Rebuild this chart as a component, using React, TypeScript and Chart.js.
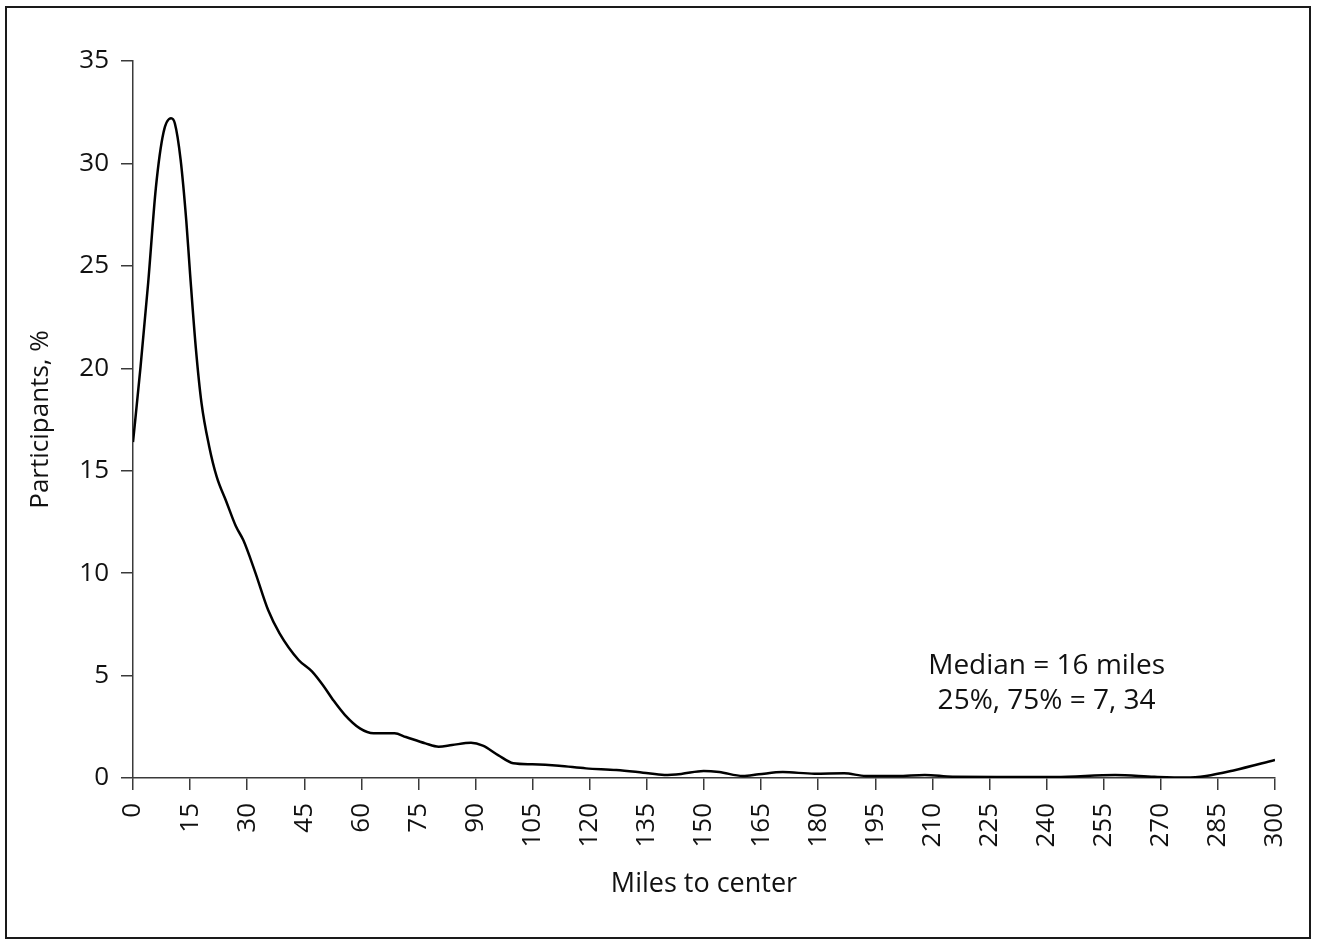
import React, { useEffect, useRef } from "react";
import { Chart, registerables } from "chart.js";

Chart.register(...registerables);

const miles = [0, 2, 4, 6, 8, 10, 11, 12.5, 14, 15, 16.5, 18, 20, 22, 24.5, 27, 29, 32, 35.5, 38.5, 43.5, 47, 50, 52.6, 55.7, 59.6, 63.2, 68.7, 71.7, 76.8, 80.3, 83.8, 88.8, 91.9, 95.9, 99.9, 104.9, 111.9, 119, 127, 134, 139.6, 144, 149.9, 154, 160.2, 164.4, 170.7, 179, 186.8, 192.5, 200.8, 208, 215.3, 226.8, 242.3, 258, 268.3, 276.6, 281.9, 289.1, 300];
const participants = [16.4, 20.1, 24.2, 28.8, 31.5, 32.2, 31.95, 30.2, 27.2, 24.6, 21.0, 18.3, 16.2, 14.7, 13.5, 12.3, 11.6, 10.1, 8.2, 7.06, 5.76, 5.2, 4.5, 3.8, 3.07, 2.42, 2.18, 2.18, 2.0, 1.69, 1.53, 1.61, 1.72, 1.58, 1.12, 0.72, 0.67, 0.6, 0.47, 0.39, 0.26, 0.15, 0.2, 0.34, 0.29, 0.1, 0.18, 0.29, 0.21, 0.23, 0.1, 0.1, 0.15, 0.06, 0.05, 0.05, 0.15, 0.06, 0.02, 0.1, 0.37, 0.88];

const xTitle = "Miles to center";
const yTitle = "Participants, %";
const noteLines = ["Median = 16 miles", "25%, 75% = 7, 34"];
const noteAt = { x: 240, y: [5.45, 3.75] };

const FONT = "'Open Sans', 'DejaVu Sans', sans-serif";
const AXIS = "#3a3a3a";

export default function App() {
  const ref = useRef<HTMLCanvasElement | null>(null);
  useEffect(() => {
    if (!ref.current) return;
    const notePlugin = {
      id: "note",
      afterDraw(chart: any) {
        const { ctx, scales } = chart;
        ctx.save();
        ctx.fillStyle = "#111";
        ctx.font = `28px ${FONT}`;
        ctx.textAlign = "center";
        ctx.textBaseline = "middle";
        noteLines.forEach((t, i) => {
          ctx.fillText(t, scales.x.getPixelForValue(noteAt.x), scales.y.getPixelForValue(noteAt.y[i]));
        });
        ctx.restore();
      },
    };
    const chart = new Chart(ref.current, {
      type: "line",
      data: {
        datasets: [
          {
            data: miles.map((m, i) => ({ x: m, y: participants[i] })),
            borderColor: "#000",
            borderWidth: 2.5,
            pointRadius: 0,
            tension: 0.4,
            cubicInterpolationMode: "monotone",
            fill: false,
          },
        ],
      },
      options: {
        animation: false,
        responsive: false,
        layout: { padding: { top: 53, right: 34, left: 0, bottom: 0 } },
        plugins: { legend: { display: false }, tooltip: { enabled: false } },
        scales: {
          x: {
            type: "linear",
            min: 0,
            max: 300,
            afterFit: (s: any) => { s.height = 159; s.paddingLeft = 0; s.paddingRight = 0; },
            ticks: { stepSize: 15, minRotation: 90, maxRotation: 90, color: "#111", padding: 13, font: { family: FONT, size: 26 } },
            grid: { drawOnChartArea: false, drawTicks: true, tickLength: 12, color: AXIS, lineWidth: 1.5 },
            border: { display: true, color: AXIS, width: 1.5 },
            title: { display: true, text: xTitle, color: "#111", font: { family: FONT, size: 27 }, padding: { top: 0, bottom: 36 } },
          },
          y: {
            min: 0,
            max: 35,
            afterFit: (s: any) => { s.width = 126; s.paddingTop = 0; s.paddingBottom = 0; },
            ticks: { stepSize: 5, color: "#111", padding: 12, font: { family: FONT, size: 26 } },
            grid: { drawOnChartArea: false, drawTicks: true, tickLength: 12, color: AXIS, lineWidth: 1.5 },
            border: { display: true, color: AXIS, width: 1.5 },
            title: { display: true, text: yTitle, color: "#111", font: { family: FONT, size: 26 }, padding: { top: 18, bottom: 0 } },
          },
        },
      },
      plugins: [notePlugin],
    } as any);
    return () => chart.destroy();
  }, []);
  return (
    <div style={{ position: "absolute", left: 5, top: 6, width: 1302, height: 929, border: "2px solid #1a1a1a", background: "#fff" }}>
      <canvas ref={ref} width={1302} height={929} style={{ display: "block", width: 1302, height: 929 }} />
    </div>
  );
}
